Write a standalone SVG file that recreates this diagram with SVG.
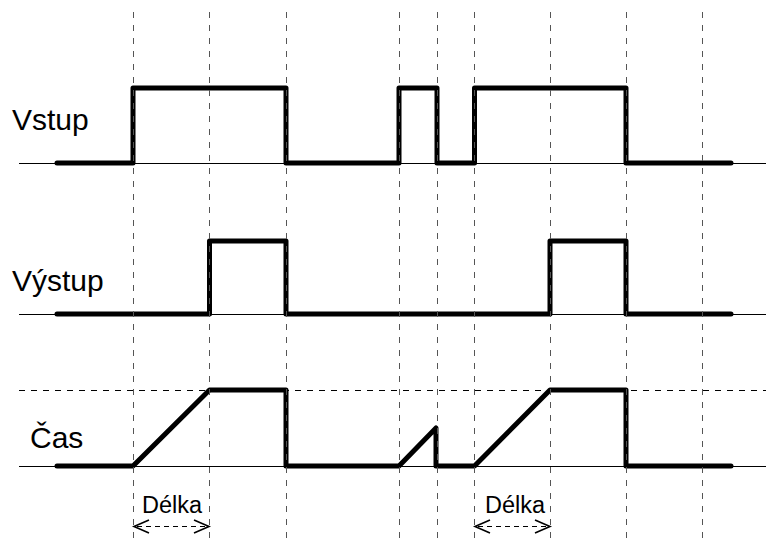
<svg xmlns="http://www.w3.org/2000/svg" width="766" height="540" viewBox="0 0 766 540">
<style>
.bg{fill:#fff}
.thin{stroke:#000;stroke-width:1;fill:none}
.hd{stroke:#000;stroke-width:1;fill:none;stroke-dasharray:6,6}
.vd{stroke:#555;stroke-width:1;fill:none;stroke-dasharray:6,7}
.sig{stroke:#000;stroke-width:5;fill:none;stroke-linejoin:round;stroke-linecap:round}
.lbl{font-family:"Liberation Sans",Arial,sans-serif;font-size:30px;fill:#000}
.dl{font-family:"Liberation Sans",Arial,sans-serif;font-size:23.5px;fill:#000}
.arr{stroke:#000;stroke-width:1.2;fill:none;stroke-dasharray:5,4}
.head{stroke:#000;stroke-width:1.6;fill:none}
</style>
<rect class="bg" x="0" y="0" width="766" height="540"/>
<g id="baselines">
<line class="thin" x1="19" y1="163.5" x2="766" y2="163.5"/>
<line class="thin" x1="19" y1="314.5" x2="766" y2="314.5"/>
<line class="thin" x1="19" y1="466.5" x2="766" y2="466.5"/>
<line class="hd" x1="19" y1="390.5" x2="766" y2="390.5"/>
</g>
<g id="vstup">
<text class="lbl" x="12" y="130">Vstup</text>
<path class="sig" d="M57,163 H133 V88 H286 V163 H399 V88 H437 V163 H474.5 V88 H626 V163 H731"/>
</g>
<g id="vystup">
<text class="lbl" x="12" y="291">Výstup</text>
<path class="sig" d="M57,314 H209.5 V241 H286 V314 H550 V241 H626 V314 H731"/>
</g>
<g id="cas">
<text class="lbl" x="30" y="448">Čas</text>
<path class="sig" d="M57,466 H133 L209.5,390 H286 V466 H399 L436,428 V466 H474.5 L550,390 H626 V466 H731"/>
</g>
<g id="grid">
<line class="vd" x1="133.5" y1="12" x2="133.5" y2="540"/>
<line class="vd" x1="209.5" y1="12" x2="209.5" y2="540"/>
<line class="vd" x1="286.5" y1="12" x2="286.5" y2="540"/>
<line class="vd" x1="399.5" y1="12" x2="399.5" y2="540"/>
<line class="vd" x1="437.5" y1="12" x2="437.5" y2="540"/>
<line class="vd" x1="474.5" y1="12" x2="474.5" y2="540"/>
<line class="vd" x1="550.5" y1="12" x2="550.5" y2="540"/>
<line class="vd" x1="626.5" y1="12" x2="626.5" y2="540"/>
<line class="vd" x1="702.5" y1="12" x2="702.5" y2="540"/>
</g>
<g id="delka1">
<text class="dl" x="142" y="513">Délka</text>
<line class="arr" x1="137" y1="526.5" x2="206" y2="526.5"/>
<path class="head" d="M149,520 L134,526.5 L149,533"/>
<path class="head" d="M194,520 L209,526.5 L194,533"/>
</g>
<g id="delka2">
<text class="dl" x="485" y="513">Délka</text>
<line class="arr" x1="478" y1="526.5" x2="547" y2="526.5"/>
<path class="head" d="M490,520 L475,526.5 L490,533"/>
<path class="head" d="M535,520 L550,526.5 L535,533"/>
</g>
</svg>
